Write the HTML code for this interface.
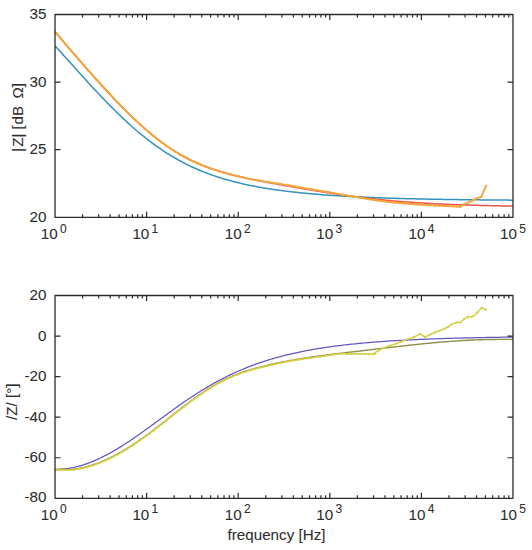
<!DOCTYPE html>
<html><head><meta charset="utf-8"><style>
html,body{margin:0;padding:0;background:#fff;width:532px;height:550px;overflow:hidden}
svg{display:block}
</style></head><body>
<svg width="532" height="550" viewBox="0 0 532 550" font-family='"Liberation Sans", sans-serif' fill="#2e2e2e" stroke-linejoin="round">
<rect width="532" height="550" fill="#fff"/>
<path d="M55.00,45.88 L56.15,47.12 L57.30,48.36 L58.44,49.61 L59.59,50.86 L60.74,52.11 L61.89,53.37 L63.04,54.63 L64.18,55.90 L65.33,57.17 L66.48,58.44 L67.63,59.71 L68.77,60.99 L69.92,62.27 L71.07,63.54 L72.22,64.82 L73.37,66.10 L74.51,67.38 L75.66,68.66 L76.81,69.94 L77.96,71.22 L79.11,72.49 L80.25,73.77 L81.40,75.04 L82.55,76.32 L83.70,77.59 L84.84,78.85 L85.99,80.12 L87.14,81.38 L88.29,82.64 L89.44,83.90 L90.58,85.15 L91.73,86.40 L92.88,87.64 L94.03,88.88 L95.18,90.12 L96.32,91.35 L97.47,92.58 L98.62,93.80 L99.77,95.02 L100.91,96.23 L102.06,97.44 L103.21,98.64 L104.36,99.84 L105.51,101.03 L106.65,102.21 L107.80,103.39 L108.95,104.56 L110.10,105.73 L111.25,106.89 L112.39,108.04 L113.54,109.19 L114.69,110.32 L115.84,111.46 L116.98,112.58 L118.13,113.70 L119.28,114.81 L120.43,115.91 L121.58,117.00 L122.72,118.09 L123.87,119.16 L125.02,120.24 L126.17,121.30 L127.32,122.35 L128.46,123.40 L129.61,124.43 L130.76,125.46 L131.91,126.48 L133.06,127.49 L134.20,128.49 L135.35,129.49 L136.50,130.47 L137.65,131.45 L138.79,132.41 L139.94,133.37 L141.09,134.32 L142.24,135.26 L143.39,136.19 L144.53,137.11 L145.68,138.02 L146.83,138.92 L147.98,139.81 L149.13,140.69 L150.27,141.57 L151.42,142.43 L152.57,143.28 L153.72,144.13 L154.86,144.96 L156.01,145.79 L157.16,146.60 L158.31,147.41 L159.46,148.21 L160.60,148.99 L161.75,149.77 L162.90,150.54 L164.05,151.29 L165.20,152.04 L166.34,152.78 L167.49,153.51 L168.64,154.23 L169.79,154.94 L170.93,155.64 L172.08,156.33 L173.23,157.01 L174.38,157.68 L175.53,158.35 L176.67,159.00 L177.82,159.65 L178.97,160.28 L180.12,160.91 L181.27,161.53 L182.41,162.14 L183.56,162.74 L184.71,163.33 L185.86,163.91 L187.01,164.48 L188.15,165.05 L189.30,165.61 L190.45,166.16 L191.60,166.70 L192.74,167.23 L193.89,167.75 L195.04,168.27 L196.19,168.78 L197.34,169.28 L198.48,169.77 L199.63,170.25 L200.78,170.73 L201.93,171.20 L203.08,171.66 L204.22,172.12 L205.37,172.57 L206.52,173.01 L207.67,173.44 L208.81,173.87 L209.96,174.29 L211.11,174.70 L212.26,175.11 L213.41,175.51 L214.55,175.90 L215.70,176.29 L216.85,176.67 L218.00,177.05 L219.15,177.42 L220.29,177.78 L221.44,178.14 L222.59,178.49 L223.74,178.83 L224.88,179.17 L226.03,179.51 L227.18,179.84 L228.33,180.16 L229.48,180.48 L230.62,180.79 L231.77,181.10 L232.92,181.40 L234.07,181.70 L235.22,181.99 L236.36,182.28 L237.51,182.56 L238.66,182.84 L239.81,183.12 L240.95,183.39 L242.10,183.65 L243.25,183.91 L244.40,184.17 L245.55,184.42 L246.69,184.67 L247.84,184.92 L248.99,185.16 L250.14,185.40 L251.29,185.63 L252.43,185.86 L253.58,186.08 L254.73,186.31 L255.88,186.52 L257.03,186.74 L258.17,186.95 L259.32,187.16 L260.47,187.36 L261.62,187.56 L262.76,187.76 L263.91,187.96 L265.06,188.15 L266.21,188.34 L267.36,188.52 L268.50,188.71 L269.65,188.89 L270.80,189.06 L271.95,189.24 L273.10,189.41 L274.24,189.58 L275.39,189.74 L276.54,189.91 L277.69,190.07 L278.83,190.23 L279.98,190.38 L281.13,190.54 L282.28,190.69 L283.43,190.84 L284.57,190.98 L285.72,191.13 L286.87,191.27 L288.02,191.41 L289.17,191.55 L290.31,191.68 L291.46,191.81 L292.61,191.95 L293.76,192.07 L294.90,192.20 L296.05,192.33 L297.20,192.45 L298.35,192.57 L299.50,192.69 L300.64,192.81 L301.79,192.92 L302.94,193.04 L304.09,193.15 L305.24,193.26 L306.38,193.37 L307.53,193.48 L308.68,193.58 L309.83,193.69 L310.97,193.79 L312.12,193.89 L313.27,193.99 L314.42,194.09 L315.57,194.19 L316.71,194.28 L317.86,194.37 L319.01,194.47 L320.16,194.56 L321.31,194.65 L322.45,194.73 L323.60,194.82 L324.75,194.91 L325.90,194.99 L327.05,195.07 L328.19,195.16 L329.34,195.24 L330.49,195.32 L331.64,195.39 L332.78,195.47 L333.93,195.55 L335.08,195.62 L336.23,195.69 L337.38,195.77 L338.52,195.84 L339.67,195.91 L340.82,195.98 L341.97,196.05 L343.12,196.11 L344.26,196.18 L345.41,196.25 L346.56,196.31 L347.71,196.37 L348.85,196.44 L350.00,196.50 L351.15,196.56 L352.30,196.62 L353.45,196.68 L354.59,196.73 L355.74,196.79 L356.89,196.85 L358.04,196.90 L359.19,196.96 L360.33,197.01 L361.48,197.07 L362.63,197.12 L363.78,197.17 L364.92,197.22 L366.07,197.27 L367.22,197.32 L368.37,197.37 L369.52,197.42 L370.66,197.46 L371.81,197.51 L372.96,197.56 L374.11,197.60 L375.26,197.64 L376.40,197.69 L377.55,197.73 L378.70,197.77 L379.85,197.82 L380.99,197.86 L382.14,197.90 L383.29,197.94 L384.44,197.98 L385.59,198.02 L386.73,198.06 L387.88,198.09 L389.03,198.13 L390.18,198.17 L391.33,198.20 L392.47,198.24 L393.62,198.28 L394.77,198.31 L395.92,198.34 L397.07,198.38 L398.21,198.41 L399.36,198.44 L400.51,198.48 L401.66,198.51 L402.80,198.54 L403.95,198.57 L405.10,198.60 L406.25,198.63 L407.40,198.66 L408.54,198.69 L409.69,198.72 L410.84,198.75 L411.99,198.77 L413.14,198.80 L414.28,198.83 L415.43,198.86 L416.58,198.88 L417.73,198.91 L418.87,198.93 L420.02,198.96 L421.17,198.98 L422.32,199.01 L423.47,199.03 L424.61,199.06 L425.76,199.08 L426.91,199.10 L428.06,199.13 L429.21,199.15 L430.35,199.17 L431.50,199.19 L432.65,199.21 L433.80,199.23 L434.94,199.26 L436.09,199.28 L437.24,199.30 L438.39,199.32 L439.54,199.34 L440.68,199.36 L441.83,199.37 L442.98,199.39 L444.13,199.41 L445.28,199.43 L446.42,199.45 L447.57,199.47 L448.72,199.48 L449.87,199.50 L451.02,199.52 L452.16,199.54 L453.31,199.55 L454.46,199.57 L455.61,199.58 L456.75,199.60 L457.90,199.62 L459.05,199.63 L460.20,199.65 L461.35,199.66 L462.49,199.68 L463.64,199.69 L464.79,199.71 L465.94,199.72 L467.09,199.73 L468.23,199.75 L469.38,199.76 L470.53,199.77 L471.68,199.79 L472.82,199.80 L473.97,199.81 L475.12,199.83 L476.27,199.84 L477.42,199.85 L478.56,199.86 L479.71,199.87 L480.86,199.89 L482.01,199.90 L483.16,199.91 L484.30,199.92 L485.45,199.93 L486.60,199.94 L487.75,199.95 L488.89,199.96 L490.04,199.97 L491.19,199.98 L492.34,199.99 L493.49,200.00 L494.63,200.01 L495.78,200.02 L496.93,200.03 L498.08,200.04 L499.23,200.05 L500.37,200.06 L501.52,200.07 L502.67,200.08 L503.82,200.09 L504.96,200.10 L506.11,200.11 L507.26,200.11 L508.41,200.12 L509.56,200.13 L510.70,200.14 L511.85,200.15 L513.00,200.15" fill="none" stroke="#3592bf" stroke-width="1.5"/>
<path d="M55.00,31.57 L56.15,32.93 L57.30,34.28 L58.44,35.63 L59.59,36.98 L60.74,38.33 L61.89,39.68 L63.04,41.03 L64.18,42.38 L65.33,43.72 L66.48,45.06 L67.63,46.40 L68.77,47.74 L69.92,49.08 L71.07,50.42 L72.22,51.75 L73.37,53.08 L74.51,54.41 L75.66,55.74 L76.81,57.07 L77.96,58.39 L79.11,59.72 L80.25,61.04 L81.40,62.35 L82.55,63.67 L83.70,64.98 L84.84,66.29 L85.99,67.60 L87.14,68.91 L88.29,70.21 L89.44,71.51 L90.58,72.80 L91.73,74.10 L92.88,75.39 L94.03,76.68 L95.18,77.96 L96.32,79.24 L97.47,80.52 L98.62,81.79 L99.77,83.06 L100.91,84.33 L102.06,85.59 L103.21,86.85 L104.36,88.10 L105.51,89.35 L106.65,90.60 L107.80,91.84 L108.95,93.07 L110.10,94.31 L111.25,95.53 L112.39,96.75 L113.54,97.97 L114.69,99.18 L115.84,100.38 L116.98,101.58 L118.13,102.78 L119.28,103.97 L120.43,105.15 L121.58,106.32 L122.72,107.49 L123.87,108.65 L125.02,109.81 L126.17,110.96 L127.32,112.10 L128.46,113.23 L129.61,114.36 L130.76,115.48 L131.91,116.59 L133.06,117.70 L134.20,118.79 L135.35,119.88 L136.50,120.96 L137.65,122.03 L138.79,123.09 L139.94,124.14 L141.09,125.18 L142.24,126.22 L143.39,127.24 L144.53,128.26 L145.68,129.26 L146.83,130.26 L147.98,131.24 L149.13,132.22 L150.27,133.18 L151.42,134.14 L152.57,135.08 L153.72,136.01 L154.86,136.94 L156.01,137.85 L157.16,138.75 L158.31,139.64 L159.46,140.51 L160.60,141.38 L161.75,142.24 L162.90,143.08 L164.05,143.91 L165.20,144.73 L166.34,145.54 L167.49,146.34 L168.64,147.12 L169.79,147.90 L170.93,148.66 L172.08,149.41 L173.23,150.14 L174.38,150.87 L175.53,151.59 L176.67,152.29 L177.82,152.98 L178.97,153.66 L180.12,154.33 L181.27,154.98 L182.41,155.63 L183.56,156.26 L184.71,156.89 L185.86,157.50 L187.01,158.10 L188.15,158.69 L189.30,159.27 L190.45,159.83 L191.60,160.39 L192.74,160.94 L193.89,161.48 L195.04,162.00 L196.19,162.52 L197.34,163.03 L198.48,163.53 L199.63,164.01 L200.78,164.49 L201.93,164.96 L203.08,165.42 L204.22,165.88 L205.37,166.32 L206.52,166.76 L207.67,167.18 L208.81,167.60 L209.96,168.01 L211.11,168.42 L212.26,168.81 L213.41,169.20 L214.55,169.59 L215.70,169.96 L216.85,170.33 L218.00,170.69 L219.15,171.05 L220.29,171.40 L221.44,171.74 L222.59,172.08 L223.74,172.41 L224.88,172.74 L226.03,173.06 L227.18,173.37 L228.33,173.69 L229.48,173.99 L230.62,174.29 L231.77,174.59 L232.92,174.89 L234.07,175.17 L235.22,175.46 L236.36,175.74 L237.51,176.02 L238.66,176.29 L239.81,176.56 L240.95,176.83 L242.10,177.09 L243.25,177.35 L244.40,177.61 L245.55,177.87 L246.69,178.12 L247.84,178.37 L248.99,178.62 L250.14,178.86 L251.29,179.11 L252.43,179.35 L253.58,179.58 L254.73,179.82 L255.88,180.05 L257.03,180.29 L258.17,180.52 L259.32,180.75 L260.47,180.97 L261.62,181.20 L262.76,181.43 L263.91,181.65 L265.06,181.87 L266.21,182.09 L267.36,182.31 L268.50,182.53 L269.65,182.75 L270.80,182.96 L271.95,183.18 L273.10,183.39 L274.24,183.60 L275.39,183.82 L276.54,184.03 L277.69,184.24 L278.83,184.45 L279.98,184.66 L281.13,184.86 L282.28,185.07 L283.43,185.28 L284.57,185.48 L285.72,185.69 L286.87,185.89 L288.02,186.10 L289.17,186.30 L290.31,186.51 L291.46,186.71 L292.61,186.91 L293.76,187.11 L294.90,187.31 L296.05,187.51 L297.20,187.71 L298.35,187.91 L299.50,188.11 L300.64,188.30 L301.79,188.50 L302.94,188.70 L304.09,188.89 L305.24,189.09 L306.38,189.28 L307.53,189.48 L308.68,189.67 L309.83,189.86 L310.97,190.05 L312.12,190.24 L313.27,190.43 L314.42,190.62 L315.57,190.81 L316.71,191.00 L317.86,191.19 L319.01,191.37 L320.16,191.56 L321.31,191.74 L322.45,191.93 L323.60,192.11 L324.75,192.29 L325.90,192.47 L327.05,192.65 L328.19,192.83 L329.34,193.01 L330.49,193.19 L331.64,193.36 L332.78,193.54 L333.93,193.71 L335.08,193.88 L336.23,194.06 L337.38,194.23 L338.52,194.39 L339.67,194.56 L340.82,194.73 L341.97,194.90 L343.12,195.06 L344.26,195.22 L345.41,195.38 L346.56,195.54 L347.71,195.70 L348.85,195.86 L350.00,196.02 L351.15,196.17 L352.30,196.33 L353.45,196.48 L354.59,196.63 L355.74,196.78 L356.89,196.93 L358.04,197.08 L359.19,197.22 L360.33,197.37 L361.48,197.51 L362.63,197.65 L363.78,197.79 L364.92,197.93 L366.07,198.07 L367.22,198.20 L368.37,198.33 L369.52,198.47 L370.66,198.60 L371.81,198.73 L372.96,198.86 L374.11,198.98 L375.26,199.11 L376.40,199.23 L377.55,199.35 L378.70,199.47 L379.85,199.59 L380.99,199.71 L382.14,199.83 L383.29,199.94 L384.44,200.05 L385.59,200.17 L386.73,200.28 L387.88,200.38 L389.03,200.49 L390.18,200.60 L391.33,200.70 L392.47,200.81 L393.62,200.91 L394.77,201.01 L395.92,201.11 L397.07,201.21 L398.21,201.30 L399.36,201.40 L400.51,201.49 L401.66,201.58 L402.80,201.67 L403.95,201.76 L405.10,201.85 L406.25,201.94 L407.40,202.02 L408.54,202.11 L409.69,202.19 L410.84,202.27 L411.99,202.35 L413.14,202.43 L414.28,202.51 L415.43,202.59 L416.58,202.66 L417.73,202.74 L418.87,202.81 L420.02,202.89 L421.17,202.96 L422.32,203.03 L423.47,203.10 L424.61,203.16 L425.76,203.23 L426.91,203.30 L428.06,203.36 L429.21,203.42 L430.35,203.49 L431.50,203.55 L432.65,203.61 L433.80,203.67 L434.94,203.73 L436.09,203.79 L437.24,203.84 L438.39,203.90 L439.54,203.95 L440.68,204.01 L441.83,204.06 L442.98,204.11 L444.13,204.17 L445.28,204.22 L446.42,204.27 L447.57,204.32 L448.72,204.36 L449.87,204.41 L451.02,204.46 L452.16,204.50 L453.31,204.55 L454.46,204.59 L455.61,204.64 L456.75,204.68 L457.90,204.72 L459.05,204.76 L460.20,204.80 L461.35,204.84 L462.49,204.88 L463.64,204.92 L464.79,204.96 L465.94,205.00 L467.09,205.03 L468.23,205.07 L469.38,205.10 L470.53,205.14 L471.68,205.17 L472.82,205.21 L473.97,205.24 L475.12,205.27 L476.27,205.31 L477.42,205.34 L478.56,205.37 L479.71,205.40 L480.86,205.43 L482.01,205.46 L483.16,205.49 L484.30,205.51 L485.45,205.54 L486.60,205.57 L487.75,205.60 L488.89,205.62 L490.04,205.65 L491.19,205.68 L492.34,205.70 L493.49,205.72 L494.63,205.75 L495.78,205.77 L496.93,205.80 L498.08,205.82 L499.23,205.84 L500.37,205.86 L501.52,205.89 L502.67,205.91 L503.82,205.93 L504.96,205.95 L506.11,205.97 L507.26,205.99 L508.41,206.01 L509.56,206.03 L510.70,206.05 L511.85,206.07 L513.00,206.09" fill="none" stroke="#ee5548" stroke-width="1.5"/>
<path d="M55.00,31.87 L56.36,33.47 L57.71,35.07 L59.07,36.67 L60.42,38.26 L61.78,39.85 L63.13,41.44 L64.49,43.03 L65.84,44.62 L67.20,46.20 L68.55,47.78 L69.91,49.36 L71.26,50.94 L72.62,52.52 L73.97,54.09 L75.33,55.66 L76.68,57.22 L78.04,58.79 L79.39,60.35 L80.75,61.91 L82.10,63.46 L83.46,65.01 L84.81,66.56 L86.17,68.10 L87.52,69.64 L88.88,71.18 L90.23,72.71 L91.59,74.24 L92.95,75.76 L94.30,77.28 L95.66,78.80 L97.01,80.31 L98.37,81.81 L99.72,83.31 L101.08,84.81 L102.43,86.29 L103.79,87.78 L105.14,89.26 L106.50,90.73 L107.85,92.19 L109.21,93.65 L110.56,95.10 L111.92,96.55 L113.27,97.98 L114.63,99.42 L115.98,100.84 L117.34,102.25 L118.69,103.66 L120.05,105.06 L121.40,106.45 L122.76,107.83 L124.11,109.20 L125.47,110.56 L126.82,111.91 L128.18,113.25 L129.54,114.59 L130.89,115.91 L132.25,117.22 L133.60,118.52 L134.96,119.80 L136.31,121.08 L137.67,122.35 L139.02,123.60 L140.38,124.84 L141.73,126.06 L143.09,127.28 L144.44,128.48 L145.80,129.66 L147.15,130.84 L148.51,132.00 L149.86,133.14 L151.22,134.27 L152.57,135.39 L153.93,136.49 L155.28,137.57 L156.64,138.64 L157.99,139.69 L159.35,140.73 L160.70,141.76 L162.06,142.76 L163.41,143.75 L164.77,144.73 L166.13,145.69 L167.48,146.63 L168.84,147.55 L170.19,148.46 L171.55,149.36 L172.90,150.23 L174.26,151.09 L175.61,151.94 L176.97,152.77 L178.32,153.58 L179.68,154.37 L181.03,155.15 L182.39,155.91 L183.74,156.66 L185.10,157.39 L186.45,158.11 L187.81,158.81 L189.16,159.50 L190.52,160.17 L191.87,160.83 L193.23,161.47 L194.58,162.10 L195.94,162.71 L197.29,163.31 L198.65,163.90 L200.00,164.47 L201.36,165.03 L202.72,165.58 L204.07,166.12 L205.43,166.64 L206.78,167.15 L208.14,167.66 L209.49,168.15 L210.85,168.63 L212.20,169.09 L213.56,169.55 L214.91,170.00 L216.27,170.44 L217.62,170.87 L218.98,171.29 L220.33,171.71 L221.69,172.11 L223.04,172.51 L224.40,172.90 L225.75,173.28 L227.11,173.65 L228.46,174.02 L229.82,174.38 L231.17,174.74 L232.53,175.09 L233.88,175.43 L235.24,175.77 L236.59,176.10 L237.95,176.42 L239.31,176.74 L240.66,177.06 L242.02,177.37 L243.37,177.68 L244.73,177.99 L246.08,178.29 L247.44,178.58 L248.79,178.87 L250.15,179.16 L251.50,179.40 L252.86,179.63 L254.21,179.86 L255.57,180.09 L256.92,180.31 L258.28,180.54 L259.63,180.76 L260.99,180.97 L262.34,181.19 L263.70,181.40 L265.05,181.62 L266.41,181.83 L267.76,182.04 L269.12,182.24 L270.47,182.45 L271.83,182.65 L273.18,182.86 L274.54,183.06 L275.89,183.26 L277.25,183.46 L278.61,183.66 L279.96,183.85 L281.32,184.10 L282.67,184.34 L284.03,184.59 L285.38,184.83 L286.74,185.07 L288.09,185.31 L289.45,185.55 L290.80,185.79 L292.16,186.03 L293.51,186.27 L294.87,186.50 L296.22,186.74 L297.58,186.98 L298.93,187.21 L300.29,187.44 L301.64,187.68 L303.00,187.91 L304.35,188.14 L305.71,188.37 L307.06,188.60 L308.42,188.83 L309.77,189.05 L311.13,189.28 L312.48,189.50 L313.84,189.73 L315.20,189.95 L316.55,190.17 L317.91,190.39 L319.26,190.61 L320.62,190.83 L321.97,191.05 L323.33,191.27 L324.68,191.48 L326.04,191.69 L327.39,191.91 L328.75,192.12 L330.10,192.33 L331.46,192.59 L332.81,192.85 L334.17,193.11 L335.52,193.37 L336.88,193.63 L338.23,193.88 L339.59,194.13 L340.94,194.39 L342.30,194.63 L343.65,194.88 L345.01,195.13 L346.36,195.37 L347.72,195.61 L349.07,195.86 L350.43,196.09 L351.79,196.33 L353.14,196.57 L354.50,196.80 L355.85,197.03 L357.21,197.26 L358.56,197.49 L359.92,197.71 L361.27,197.93 L362.63,198.16 L363.98,198.37 L365.34,198.59 L366.69,198.81 L368.05,199.02 L369.40,199.23 L370.76,199.44 L372.11,199.65 L373.47,199.85 L374.82,200.05 L376.18,200.25 L377.53,200.45 L378.89,200.65 L380.24,200.84 L381.60,201.04 L382.95,201.23 L384.31,201.41 L385.66,201.60 L387.02,201.78 L388.38,201.97 L389.73,202.15 L391.09,202.28 L392.44,202.41 L393.80,202.54 L395.15,202.66 L396.51,202.78 L397.86,202.90 L399.22,203.02 L400.57,203.13 L401.93,203.24 L403.28,203.35 L404.64,203.46 L405.99,203.57 L407.35,203.68 L408.70,203.78 L410.06,203.88 L411.41,203.98 L412.77,204.08 L414.12,204.18 L415.48,204.28 L416.83,204.37 L418.19,204.46 L419.54,204.55 L420.90,204.64 L422.25,204.73 L423.61,204.82 L424.97,204.90 L426.32,204.98 L427.68,205.07 L429.03,205.15 L430.39,205.22 L431.74,205.30 L433.10,205.38 L434.45,205.45 L435.81,205.52 L437.16,205.60 L438.52,205.67 L439.87,205.74 L441.23,205.80 L442.58,205.87 L443.94,205.94 L445.29,206.00 L446.65,206.06 L448.00,206.13 L449.36,206.19 L450.71,206.25 L452.07,206.30 L453.42,206.35 L454.78,206.40 L456.13,206.46 L457.49,206.51 L458.84,206.56 L460.20,206.60 L460.20,206.90 L464.40,204.10 L468.60,202.40 L472.80,200.30 L477.10,198.20 L481.30,196.90 L486.00,185.90" fill="none" stroke="#f4a63e" stroke-width="1.9" stroke-linejoin="round"/>
<g fill="#f4a63e"><circle cx="56.50" cy="33.64" r="1.1"/><circle cx="60.90" cy="38.82" r="1.1"/><circle cx="65.30" cy="43.98" r="1.1"/><circle cx="69.70" cy="49.12" r="1.1"/><circle cx="74.10" cy="54.24" r="1.1"/><circle cx="78.50" cy="59.32" r="1.1"/><circle cx="82.90" cy="64.37" r="1.1"/><circle cx="87.30" cy="69.39" r="1.1"/><circle cx="91.70" cy="74.36" r="1.1"/><circle cx="96.10" cy="79.29" r="1.1"/><circle cx="100.50" cy="84.17" r="1.1"/><circle cx="104.90" cy="88.99" r="1.1"/><circle cx="109.30" cy="93.75" r="1.1"/><circle cx="113.70" cy="98.44" r="1.1"/><circle cx="118.10" cy="103.04" r="1.1"/><circle cx="122.50" cy="107.56" r="1.1"/><circle cx="126.90" cy="111.99" r="1.1"/><circle cx="131.30" cy="116.30" r="1.1"/><circle cx="135.70" cy="120.51" r="1.1"/><circle cx="140.10" cy="124.58" r="1.1"/><circle cx="144.50" cy="128.53" r="1.1"/><circle cx="148.90" cy="132.33" r="1.1"/><circle cx="153.30" cy="135.98" r="1.1"/><circle cx="157.70" cy="139.47" r="1.1"/><circle cx="162.10" cy="142.79" r="1.1"/><circle cx="166.50" cy="145.95" r="1.1"/><circle cx="170.90" cy="148.93" r="1.1"/><circle cx="175.30" cy="151.75" r="1.1"/><circle cx="179.70" cy="154.39" r="1.1"/><circle cx="184.10" cy="156.86" r="1.1"/><circle cx="188.50" cy="159.16" r="1.1"/><circle cx="192.90" cy="161.31" r="1.1"/><circle cx="197.30" cy="163.31" r="1.1"/><circle cx="201.70" cy="165.17" r="1.1"/><circle cx="206.10" cy="166.90" r="1.1"/><circle cx="210.50" cy="168.50" r="1.1"/><circle cx="214.90" cy="170.00" r="1.1"/><circle cx="219.30" cy="171.39" r="1.1"/><circle cx="223.70" cy="172.70" r="1.1"/><circle cx="228.10" cy="173.92" r="1.1"/><circle cx="232.50" cy="175.08" r="1.1"/><circle cx="236.90" cy="176.17" r="1.1"/><circle cx="241.30" cy="177.21" r="1.1"/><circle cx="245.70" cy="178.20" r="1.1"/><circle cx="250.10" cy="179.15" r="1.1"/><circle cx="254.50" cy="179.91" r="1.1"/><circle cx="258.90" cy="180.64" r="1.1"/><circle cx="263.30" cy="181.34" r="1.1"/><circle cx="267.70" cy="182.03" r="1.1"/><circle cx="272.10" cy="182.69" r="1.1"/><circle cx="276.50" cy="183.35" r="1.1"/><circle cx="280.90" cy="184.02" r="1.1"/><circle cx="285.30" cy="184.81" r="1.1"/><circle cx="289.70" cy="185.60" r="1.1"/><circle cx="294.10" cy="186.37" r="1.1"/><circle cx="298.50" cy="187.13" r="1.1"/><circle cx="302.90" cy="187.89" r="1.1"/><circle cx="307.30" cy="188.64" r="1.1"/><circle cx="311.70" cy="189.37" r="1.1"/><circle cx="316.10" cy="190.10" r="1.1"/><circle cx="320.50" cy="190.81" r="1.1"/><circle cx="324.90" cy="191.52" r="1.1"/><circle cx="329.30" cy="192.20" r="1.1"/><circle cx="333.70" cy="193.02" r="1.1"/><circle cx="338.10" cy="193.86" r="1.1"/><circle cx="342.50" cy="194.67" r="1.1"/><circle cx="346.90" cy="195.47" r="1.1"/><circle cx="351.30" cy="196.25" r="1.1"/><circle cx="355.70" cy="197.00" r="1.1"/><circle cx="360.10" cy="197.74" r="1.1"/><circle cx="364.50" cy="198.46" r="1.1"/><circle cx="368.90" cy="199.15" r="1.1"/><circle cx="373.30" cy="199.82" r="1.1"/><circle cx="377.70" cy="200.48" r="1.1"/><circle cx="382.10" cy="201.11" r="1.1"/><circle cx="386.50" cy="201.71" r="1.1"/><circle cx="390.90" cy="202.27" r="1.1"/><circle cx="395.30" cy="202.67" r="1.1"/><circle cx="399.70" cy="203.06" r="1.1"/><circle cx="404.10" cy="203.42" r="1.1"/><circle cx="408.50" cy="203.77" r="1.1"/><circle cx="412.90" cy="204.09" r="1.1"/><circle cx="417.30" cy="204.40" r="1.1"/><circle cx="421.70" cy="204.69" r="1.1"/><circle cx="426.10" cy="204.97" r="1.1"/><circle cx="430.50" cy="205.23" r="1.1"/><circle cx="434.90" cy="205.48" r="1.1"/><circle cx="439.30" cy="205.71" r="1.1"/><circle cx="443.70" cy="205.93" r="1.1"/><circle cx="448.10" cy="206.13" r="1.1"/><circle cx="452.50" cy="206.32" r="1.1"/><circle cx="456.90" cy="206.48" r="1.1"/><circle cx="460.20" cy="206.90" r="1.1"/><circle cx="464.40" cy="204.10" r="1.1"/><circle cx="468.60" cy="202.40" r="1.1"/><circle cx="472.80" cy="200.30" r="1.1"/><circle cx="477.10" cy="198.20" r="1.1"/><circle cx="481.30" cy="196.90" r="1.1"/><circle cx="486.00" cy="185.90" r="1.1"/></g>
<path d="M55.00,469.34 L56.15,469.36 L57.30,469.36 L58.44,469.34 L59.59,469.30 L60.74,469.24 L61.89,469.17 L63.04,469.08 L64.18,468.97 L65.33,468.85 L66.48,468.71 L67.63,468.55 L68.77,468.38 L69.92,468.19 L71.07,467.98 L72.22,467.76 L73.37,467.52 L74.51,467.27 L75.66,467.00 L76.81,466.72 L77.96,466.43 L79.11,466.12 L80.25,465.79 L81.40,465.45 L82.55,465.10 L83.70,464.73 L84.84,464.36 L85.99,463.96 L87.14,463.56 L88.29,463.14 L89.44,462.71 L90.58,462.26 L91.73,461.81 L92.88,461.34 L94.03,460.86 L95.18,460.37 L96.32,459.86 L97.47,459.35 L98.62,458.82 L99.77,458.28 L100.91,457.73 L102.06,457.17 L103.21,456.60 L104.36,456.02 L105.51,455.43 L106.65,454.83 L107.80,454.22 L108.95,453.60 L110.10,452.97 L111.25,452.33 L112.39,451.68 L113.54,451.02 L114.69,450.35 L115.84,449.68 L116.98,448.99 L118.13,448.30 L119.28,447.60 L120.43,446.89 L121.58,446.18 L122.72,445.45 L123.87,444.72 L125.02,443.99 L126.17,443.24 L127.32,442.49 L128.46,441.73 L129.61,440.97 L130.76,440.20 L131.91,439.42 L133.06,438.64 L134.20,437.85 L135.35,437.06 L136.50,436.27 L137.65,435.46 L138.79,434.66 L139.94,433.85 L141.09,433.04 L142.24,432.22 L143.39,431.40 L144.53,430.57 L145.68,429.75 L146.83,428.92 L147.98,428.09 L149.13,427.25 L150.27,426.42 L151.42,425.58 L152.57,424.74 L153.72,423.90 L154.86,423.06 L156.01,422.21 L157.16,421.37 L158.31,420.53 L159.46,419.68 L160.60,418.84 L161.75,418.00 L162.90,417.16 L164.05,416.32 L165.20,415.48 L166.34,414.64 L167.49,413.80 L168.64,412.96 L169.79,412.13 L170.93,411.30 L172.08,410.47 L173.23,409.64 L174.38,408.82 L175.53,408.00 L176.67,407.18 L177.82,406.37 L178.97,405.56 L180.12,404.75 L181.27,403.95 L182.41,403.15 L183.56,402.35 L184.71,401.56 L185.86,400.78 L187.01,399.99 L188.15,399.22 L189.30,398.45 L190.45,397.68 L191.60,396.92 L192.74,396.16 L193.89,395.41 L195.04,394.67 L196.19,393.93 L197.34,393.19 L198.48,392.46 L199.63,391.74 L200.78,391.02 L201.93,390.31 L203.08,389.61 L204.22,388.91 L205.37,388.22 L206.52,387.53 L207.67,386.85 L208.81,386.18 L209.96,385.51 L211.11,384.85 L212.26,384.20 L213.41,383.55 L214.55,382.91 L215.70,382.28 L216.85,381.65 L218.00,381.03 L219.15,380.42 L220.29,379.81 L221.44,379.21 L222.59,378.61 L223.74,378.02 L224.88,377.44 L226.03,376.87 L227.18,376.30 L228.33,375.74 L229.48,375.18 L230.62,374.64 L231.77,374.09 L232.92,373.56 L234.07,373.03 L235.22,372.51 L236.36,371.99 L237.51,371.48 L238.66,370.98 L239.81,370.48 L240.95,369.99 L242.10,369.51 L243.25,369.03 L244.40,368.55 L245.55,368.09 L246.69,367.63 L247.84,367.17 L248.99,366.73 L250.14,366.28 L251.29,365.85 L252.43,365.42 L253.58,364.99 L254.73,364.57 L255.88,364.16 L257.03,363.75 L258.17,363.35 L259.32,362.95 L260.47,362.56 L261.62,362.17 L262.76,361.79 L263.91,361.41 L265.06,361.04 L266.21,360.68 L267.36,360.32 L268.50,359.96 L269.65,359.61 L270.80,359.27 L271.95,358.93 L273.10,358.59 L274.24,358.26 L275.39,357.93 L276.54,357.61 L277.69,357.29 L278.83,356.98 L279.98,356.67 L281.13,356.37 L282.28,356.07 L283.43,355.77 L284.57,355.48 L285.72,355.20 L286.87,354.91 L288.02,354.64 L289.17,354.36 L290.31,354.09 L291.46,353.82 L292.61,353.56 L293.76,353.30 L294.90,353.05 L296.05,352.80 L297.20,352.55 L298.35,352.30 L299.50,352.06 L300.64,351.83 L301.79,351.59 L302.94,351.36 L304.09,351.14 L305.24,350.91 L306.38,350.69 L307.53,350.48 L308.68,350.26 L309.83,350.05 L310.97,349.85 L312.12,349.64 L313.27,349.44 L314.42,349.24 L315.57,349.05 L316.71,348.85 L317.86,348.66 L319.01,348.48 L320.16,348.29 L321.31,348.11 L322.45,347.93 L323.60,347.76 L324.75,347.58 L325.90,347.41 L327.05,347.24 L328.19,347.08 L329.34,346.92 L330.49,346.76 L331.64,346.60 L332.78,346.44 L333.93,346.29 L335.08,346.14 L336.23,345.99 L337.38,345.84 L338.52,345.69 L339.67,345.55 L340.82,345.41 L341.97,345.27 L343.12,345.14 L344.26,345.00 L345.41,344.87 L346.56,344.74 L347.71,344.61 L348.85,344.48 L350.00,344.36 L351.15,344.24 L352.30,344.12 L353.45,344.00 L354.59,343.88 L355.74,343.76 L356.89,343.65 L358.04,343.54 L359.19,343.43 L360.33,343.32 L361.48,343.21 L362.63,343.11 L363.78,343.00 L364.92,342.90 L366.07,342.80 L367.22,342.70 L368.37,342.60 L369.52,342.51 L370.66,342.41 L371.81,342.32 L372.96,342.22 L374.11,342.13 L375.26,342.04 L376.40,341.96 L377.55,341.87 L378.70,341.78 L379.85,341.70 L380.99,341.62 L382.14,341.53 L383.29,341.45 L384.44,341.37 L385.59,341.30 L386.73,341.22 L387.88,341.14 L389.03,341.07 L390.18,340.99 L391.33,340.92 L392.47,340.85 L393.62,340.78 L394.77,340.71 L395.92,340.64 L397.07,340.57 L398.21,340.51 L399.36,340.44 L400.51,340.38 L401.66,340.31 L402.80,340.25 L403.95,340.19 L405.10,340.13 L406.25,340.07 L407.40,340.01 L408.54,339.95 L409.69,339.90 L410.84,339.84 L411.99,339.78 L413.14,339.73 L414.28,339.68 L415.43,339.62 L416.58,339.57 L417.73,339.52 L418.87,339.47 L420.02,339.42 L421.17,339.37 L422.32,339.32 L423.47,339.27 L424.61,339.23 L425.76,339.18 L426.91,339.13 L428.06,339.09 L429.21,339.04 L430.35,339.00 L431.50,338.96 L432.65,338.91 L433.80,338.87 L434.94,338.83 L436.09,338.79 L437.24,338.75 L438.39,338.71 L439.54,338.67 L440.68,338.64 L441.83,338.60 L442.98,338.56 L444.13,338.52 L445.28,338.49 L446.42,338.45 L447.57,338.42 L448.72,338.38 L449.87,338.35 L451.02,338.32 L452.16,338.28 L453.31,338.25 L454.46,338.22 L455.61,338.19 L456.75,338.16 L457.90,338.12 L459.05,338.09 L460.20,338.06 L461.35,338.04 L462.49,338.01 L463.64,337.98 L464.79,337.95 L465.94,337.92 L467.09,337.90 L468.23,337.87 L469.38,337.84 L470.53,337.82 L471.68,337.79 L472.82,337.77 L473.97,337.74 L475.12,337.72 L476.27,337.69 L477.42,337.67 L478.56,337.64 L479.71,337.62 L480.86,337.60 L482.01,337.58 L483.16,337.55 L484.30,337.53 L485.45,337.51 L486.60,337.49 L487.75,337.47 L488.89,337.45 L490.04,337.43 L491.19,337.41 L492.34,337.39 L493.49,337.37 L494.63,337.35 L495.78,337.33 L496.93,337.31 L498.08,337.29 L499.23,337.28 L500.37,337.26 L501.52,337.24 L502.67,337.22 L503.82,337.21 L504.96,337.19 L506.11,337.17 L507.26,337.16 L508.41,337.14 L509.56,337.13 L510.70,337.11 L511.85,337.10 L513.00,337.08" fill="none" stroke="#6455c0" stroke-width="1.25"/>
<path d="M55.00,469.41 L56.15,469.41 L57.30,469.41 L58.44,469.41 L59.59,469.41 L60.74,469.41 L61.89,469.41 L63.04,469.41 L64.18,469.41 L65.33,469.41 L66.48,469.41 L67.63,469.41 L68.77,469.41 L69.92,469.41 L71.07,469.41 L72.22,469.41 L73.37,469.32 L74.51,469.18 L75.66,469.02 L76.81,468.84 L77.96,468.65 L79.11,468.45 L80.25,468.23 L81.40,468.00 L82.55,467.75 L83.70,467.49 L84.84,467.21 L85.99,466.92 L87.14,466.61 L88.29,466.30 L89.44,465.96 L90.58,465.62 L91.73,465.26 L92.88,464.89 L94.03,464.50 L95.18,464.10 L96.32,463.69 L97.47,463.27 L98.62,462.83 L99.77,462.38 L100.91,461.92 L102.06,461.45 L103.21,460.96 L104.36,460.46 L105.51,459.95 L106.65,459.43 L107.80,458.90 L108.95,458.36 L110.10,457.80 L111.25,457.24 L112.39,456.66 L113.54,456.07 L114.69,455.48 L115.84,454.87 L116.98,454.25 L118.13,453.62 L119.28,452.98 L120.43,452.33 L121.58,451.68 L122.72,451.01 L123.87,450.33 L125.02,449.64 L126.17,448.95 L127.32,448.24 L128.46,447.53 L129.61,446.81 L130.76,446.08 L131.91,445.34 L133.06,444.59 L134.20,443.83 L135.35,443.07 L136.50,442.29 L137.65,441.51 L138.79,440.73 L139.94,439.93 L141.09,439.13 L142.24,438.32 L143.39,437.50 L144.53,436.68 L145.68,435.85 L146.83,435.01 L147.98,434.17 L149.13,433.32 L150.27,432.46 L151.42,431.60 L152.57,430.73 L153.72,429.86 L154.86,428.99 L156.01,428.10 L157.16,427.22 L158.31,426.33 L159.46,425.44 L160.60,424.55 L161.75,423.65 L162.90,422.75 L164.05,421.85 L165.20,420.94 L166.34,420.04 L167.49,419.13 L168.64,418.23 L169.79,417.32 L170.93,416.41 L172.08,415.50 L173.23,414.60 L174.38,413.69 L175.53,412.78 L176.67,411.88 L177.82,410.98 L178.97,410.08 L180.12,409.18 L181.27,408.29 L182.41,407.40 L183.56,406.51 L184.71,405.62 L185.86,404.74 L187.01,403.87 L188.15,403.00 L189.30,402.13 L190.45,401.27 L191.60,400.41 L192.74,399.56 L193.89,398.72 L195.04,397.88 L196.19,397.05 L197.34,396.23 L198.48,395.41 L199.63,394.60 L200.78,393.80 L201.93,393.01 L203.08,392.23 L204.22,391.46 L205.37,390.69 L206.52,389.94 L207.67,389.20 L208.81,388.46 L209.96,387.74 L211.11,387.03 L212.26,386.33 L213.41,385.64 L214.55,384.96 L215.70,384.30 L216.85,383.64 L218.00,383.01 L219.15,382.38 L220.29,381.77 L221.44,381.17 L222.59,380.58 L223.74,380.01 L224.88,379.45 L226.03,378.91 L227.18,378.37 L228.33,377.85 L229.48,377.34 L230.62,376.84 L231.77,376.35 L232.92,375.88 L234.07,375.41 L235.22,374.96 L236.36,374.51 L237.51,374.08 L238.66,373.65 L239.81,373.23 L240.95,372.82 L242.10,372.42 L243.25,372.03 L244.40,371.65 L245.55,371.28 L246.69,370.91 L247.84,370.55 L248.99,370.20 L250.14,369.85 L251.29,369.51 L252.43,369.18 L253.58,368.85 L254.73,368.53 L255.88,368.21 L257.03,367.90 L258.17,367.59 L259.32,367.29 L260.47,366.99 L261.62,366.70 L262.76,366.41 L263.91,366.12 L265.06,365.84 L266.21,365.56 L267.36,365.28 L268.50,365.01 L269.65,364.74 L270.80,364.48 L271.95,364.22 L273.10,363.96 L274.24,363.71 L275.39,363.46 L276.54,363.21 L277.69,362.97 L278.83,362.73 L279.98,362.49 L281.13,362.26 L282.28,362.03 L283.43,361.80 L284.57,361.57 L285.72,361.35 L286.87,361.13 L288.02,360.92 L289.17,360.71 L290.31,360.50 L291.46,360.29 L292.61,360.08 L293.76,359.88 L294.90,359.68 L296.05,359.48 L297.20,359.29 L298.35,359.10 L299.50,358.91 L300.64,358.72 L301.79,358.53 L302.94,358.35 L304.09,358.17 L305.24,357.99 L306.38,357.82 L307.53,357.64 L308.68,357.47 L309.83,357.30 L310.97,357.13 L312.12,356.96 L313.27,356.80 L314.42,356.63 L315.57,356.47 L316.71,356.31 L317.86,356.15 L319.01,356.00 L320.16,355.84 L321.31,355.69 L322.45,355.53 L323.60,355.38 L324.75,355.23 L325.90,355.08 L327.05,354.94 L328.19,354.79 L329.34,354.64 L330.49,354.50 L331.64,354.36 L332.78,354.21 L333.93,354.07 L335.08,353.93 L336.23,353.79 L337.38,353.65 L338.52,353.51 L339.67,353.38 L340.82,353.24 L341.97,353.10 L343.12,352.97 L344.26,352.83 L345.41,352.70 L346.56,352.56 L347.71,352.43 L348.85,352.29 L350.00,352.16 L351.15,352.02 L352.30,351.89 L353.45,351.75 L354.59,351.62 L355.74,351.49 L356.89,351.35 L358.04,351.22 L359.19,351.08 L360.33,350.95 L361.48,350.81 L362.63,350.68 L363.78,350.54 L364.92,350.41 L366.07,350.27 L367.22,350.14 L368.37,350.00 L369.52,349.86 L370.66,349.73 L371.81,349.59 L372.96,349.45 L374.11,349.32 L375.26,349.18 L376.40,349.04 L377.55,348.91 L378.70,348.77 L379.85,348.64 L380.99,348.50 L382.14,348.36 L383.29,348.23 L384.44,348.09 L385.59,347.96 L386.73,347.82 L387.88,347.69 L389.03,347.55 L390.18,347.42 L391.33,347.28 L392.47,347.15 L393.62,347.01 L394.77,346.88 L395.92,346.75 L397.07,346.62 L398.21,346.49 L399.36,346.35 L400.51,346.22 L401.66,346.09 L402.80,345.96 L403.95,345.83 L405.10,345.71 L406.25,345.58 L407.40,345.45 L408.54,345.32 L409.69,345.20 L410.84,345.07 L411.99,344.95 L413.14,344.83 L414.28,344.70 L415.43,344.58 L416.58,344.46 L417.73,344.34 L418.87,344.22 L420.02,344.10 L421.17,343.98 L422.32,343.87 L423.47,343.75 L424.61,343.64 L425.76,343.52 L426.91,343.41 L428.06,343.30 L429.21,343.19 L430.35,343.08 L431.50,342.97 L432.65,342.86 L433.80,342.76 L434.94,342.65 L436.09,342.55 L437.24,342.45 L438.39,342.35 L439.54,342.25 L440.68,342.15 L441.83,342.05 L442.98,341.96 L444.13,341.86 L445.28,341.77 L446.42,341.68 L447.57,341.59 L448.72,341.50 L449.87,341.41 L451.02,341.33 L452.16,341.24 L453.31,341.16 L454.46,341.08 L455.61,341.00 L456.75,340.92 L457.90,340.85 L459.05,340.77 L460.20,340.70 L461.35,340.63 L462.49,340.56 L463.64,340.49 L464.79,340.43 L465.94,340.36 L467.09,340.30 L468.23,340.24 L469.38,340.18 L470.53,340.13 L471.68,340.07 L472.82,340.02 L473.97,339.97 L475.12,339.92 L476.27,339.88 L477.42,339.83 L478.56,339.79 L479.71,339.75 L480.86,339.71 L482.01,339.68 L483.16,339.65 L484.30,339.61 L485.45,339.59 L486.60,339.56 L487.75,339.53 L488.89,339.51 L490.04,339.49 L491.19,339.47 L492.34,339.46 L493.49,339.45 L494.63,339.44 L495.78,339.43 L496.93,339.42 L498.08,339.42 L499.23,339.42 L500.37,339.42 L501.52,339.42 L502.67,339.42 L503.82,339.42 L504.96,339.42 L506.11,339.42 L507.26,339.42 L508.41,339.42 L509.56,339.42 L510.70,339.42 L511.85,339.42 L513.00,339.42" fill="none" stroke="#8e8e48" stroke-width="1.4"/>
<path d="M55.00,469.91 L56.07,469.91 L57.14,469.91 L58.21,469.91 L59.28,469.91 L60.35,469.91 L61.42,469.91 L62.49,469.91 L63.56,469.91 L64.63,469.91 L65.70,469.91 L66.77,469.91 L67.83,469.91 L68.90,469.91 L69.97,469.91 L71.04,469.91 L72.11,469.91 L73.18,469.84 L74.25,469.71 L75.32,469.57 L76.39,469.41 L77.46,469.24 L78.53,469.05 L79.60,468.86 L80.67,468.65 L81.74,468.43 L82.81,468.19 L83.88,467.94 L84.95,467.68 L86.02,467.41 L87.09,467.13 L88.16,466.83 L89.23,466.53 L90.30,466.21 L91.37,465.87 L92.43,465.53 L93.50,465.18 L94.57,464.81 L95.64,464.44 L96.71,464.05 L97.78,463.65 L98.85,463.24 L99.92,462.82 L100.99,462.39 L102.06,461.95 L103.13,461.49 L104.20,461.03 L105.27,460.56 L106.34,460.08 L107.41,459.59 L108.48,459.08 L109.55,458.57 L110.62,458.05 L111.69,457.52 L112.76,456.98 L113.83,456.43 L114.90,455.87 L115.97,455.30 L117.03,454.72 L118.10,454.14 L119.17,453.54 L120.24,452.94 L121.31,452.33 L122.38,451.71 L123.45,451.08 L124.52,450.44 L125.59,449.80 L126.66,449.15 L127.73,448.49 L128.80,447.82 L129.87,447.14 L130.94,446.46 L132.01,445.77 L133.08,445.07 L134.15,444.37 L135.22,443.66 L136.29,442.94 L137.36,442.21 L138.43,441.48 L139.50,440.74 L140.57,440.00 L141.63,439.25 L142.70,438.49 L143.77,437.72 L144.84,436.96 L145.91,436.18 L146.98,435.40 L148.05,434.61 L149.12,433.82 L150.19,433.02 L151.26,432.22 L152.33,431.41 L153.40,430.60 L154.47,429.79 L155.54,428.97 L156.61,428.15 L157.68,427.32 L158.75,426.49 L159.82,425.66 L160.89,424.82 L161.96,423.99 L163.03,423.15 L164.10,422.31 L165.17,421.47 L166.23,420.62 L167.30,419.78 L168.37,418.93 L169.44,418.09 L170.51,417.24 L171.58,416.40 L172.65,415.55 L173.72,414.71 L174.79,413.86 L175.86,413.02 L176.93,412.18 L178.00,411.34 L179.07,410.50 L180.14,409.67 L181.21,408.83 L182.28,408.00 L183.35,407.17 L184.42,406.35 L185.49,405.53 L186.56,404.71 L187.63,403.89 L188.70,403.08 L189.77,402.28 L190.83,401.48 L191.90,400.68 L192.97,399.89 L194.04,399.11 L195.11,398.33 L196.18,397.55 L197.25,396.79 L198.32,396.03 L199.39,395.27 L200.46,394.53 L201.53,393.79 L202.60,393.05 L203.67,392.33 L204.74,391.61 L205.81,390.91 L206.88,390.21 L207.95,389.52 L209.02,388.83 L210.09,388.16 L211.16,387.50 L212.23,386.85 L213.30,386.20 L214.37,385.57 L215.43,384.95 L216.50,384.34 L217.57,383.74 L218.64,383.15 L219.71,382.58 L220.78,382.01 L221.85,381.46 L222.92,380.92 L223.99,380.39 L225.06,379.87 L226.13,379.36 L227.20,378.86 L228.27,378.38 L229.34,377.90 L230.41,377.43 L231.48,376.98 L232.55,376.53 L233.62,376.09 L234.69,375.66 L235.76,375.24 L236.83,374.83 L237.90,374.43 L238.97,374.04 L240.03,373.65 L241.10,373.27 L242.17,372.90 L243.24,372.54 L244.31,372.18 L245.38,371.83 L246.45,371.49 L247.52,371.15 L248.59,370.82 L249.66,370.49 L250.73,370.17 L251.80,369.86 L252.87,369.55 L253.94,369.25 L255.01,368.95 L256.08,368.65 L257.15,368.36 L258.22,368.08 L259.29,367.80 L260.36,367.52 L261.43,367.24 L262.50,366.97 L263.57,366.70 L264.63,366.44 L265.70,366.18 L266.77,365.92 L267.84,365.67 L268.91,365.41 L269.98,365.17 L271.05,364.92 L272.12,364.68 L273.19,364.44 L274.26,364.20 L275.33,363.97 L276.40,363.74 L277.47,363.51 L278.54,363.29 L279.61,363.07 L280.68,362.85 L281.75,362.65 L282.82,362.44 L283.89,362.24 L284.96,362.04 L286.03,361.84 L287.10,361.64 L288.17,361.45 L289.23,361.26 L290.30,361.07 L291.37,360.89 L292.44,360.71 L293.51,360.52 L294.58,360.35 L295.65,360.17 L296.72,360.00 L297.79,359.82 L298.86,359.65 L299.93,359.49 L301.00,359.32 L302.07,359.16 L303.14,358.99 L304.21,358.83 L305.28,358.68 L306.35,358.52 L307.42,358.36 L308.49,358.21 L309.56,358.06 L310.63,357.91 L311.70,357.76 L312.77,357.62 L313.83,357.47 L314.90,357.33 L315.97,357.18 L317.04,357.04 L318.11,356.90 L319.18,356.77 L320.25,356.62 L321.32,356.47 L322.39,356.31 L323.46,356.15 L324.53,355.99 L325.60,355.84 L326.67,355.68 L327.74,355.53 L328.81,355.38 L329.88,355.23 L330.95,355.08 L332.02,354.93 L333.09,354.78 L334.16,354.63 L335.23,354.49 L336.30,354.34 L337.37,354.19 L338.43,354.05 L339.50,353.90 L340.57,353.84 L341.64,353.85 L342.71,353.85 L343.78,353.86 L344.85,353.87 L345.92,353.88 L346.99,353.88 L348.06,353.89 L349.13,353.90 L350.20,353.91 L351.27,353.92 L352.34,353.93 L353.41,353.94 L354.48,353.94 L355.55,353.95 L356.62,353.96 L357.69,353.97 L358.76,353.98 L359.83,353.99 L360.90,354.00 L361.97,354.02 L363.03,354.04 L364.10,354.05 L365.17,354.07 L366.24,354.08 L367.31,354.10 L368.38,354.12 L369.45,354.13 L370.52,354.15 L371.59,354.16 L372.66,354.18 L373.73,354.19 L374.80,354.21 L374.80,352.90 L378.40,350.70 L383.30,348.20 L389.40,345.80 L395.60,343.90 L401.70,341.50 L407.80,339.10 L413.90,337.20 L420.00,333.80 L424.90,337.00 L430.50,334.50 L435.00,332.30 L439.50,330.80 L444.10,328.90 L447.80,327.10 L451.60,324.40 L456.10,322.60 L460.60,322.30 L464.40,318.80 L468.10,316.80 L472.60,316.50 L477.10,312.80 L481.70,307.80 L486.20,309.80" fill="none" stroke="#d4cf46" stroke-width="1.5" stroke-linejoin="round"/>
<g fill="#d4cf46"><circle cx="56.50" cy="469.91" r="1.1"/><circle cx="60.90" cy="469.91" r="1.1"/><circle cx="65.30" cy="469.91" r="1.1"/><circle cx="69.70" cy="469.91" r="1.1"/><circle cx="74.10" cy="469.73" r="1.1"/><circle cx="78.50" cy="469.06" r="1.1"/><circle cx="82.90" cy="468.17" r="1.1"/><circle cx="87.30" cy="467.07" r="1.1"/><circle cx="91.70" cy="465.77" r="1.1"/><circle cx="96.10" cy="464.27" r="1.1"/><circle cx="100.50" cy="462.59" r="1.1"/><circle cx="104.90" cy="460.72" r="1.1"/><circle cx="109.30" cy="458.69" r="1.1"/><circle cx="113.70" cy="456.49" r="1.1"/><circle cx="118.10" cy="454.14" r="1.1"/><circle cx="122.50" cy="451.64" r="1.1"/><circle cx="126.90" cy="449.00" r="1.1"/><circle cx="131.30" cy="446.23" r="1.1"/><circle cx="135.70" cy="443.33" r="1.1"/><circle cx="140.10" cy="440.32" r="1.1"/><circle cx="144.50" cy="437.20" r="1.1"/><circle cx="148.90" cy="433.98" r="1.1"/><circle cx="153.30" cy="430.68" r="1.1"/><circle cx="157.70" cy="427.30" r="1.1"/><circle cx="162.10" cy="423.88" r="1.1"/><circle cx="166.50" cy="420.41" r="1.1"/><circle cx="170.90" cy="416.94" r="1.1"/><circle cx="175.30" cy="413.46" r="1.1"/><circle cx="179.70" cy="410.01" r="1.1"/><circle cx="184.10" cy="406.59" r="1.1"/><circle cx="188.50" cy="403.23" r="1.1"/><circle cx="192.90" cy="399.95" r="1.1"/><circle cx="197.30" cy="396.75" r="1.1"/><circle cx="201.70" cy="393.67" r="1.1"/><circle cx="206.10" cy="390.71" r="1.1"/><circle cx="210.50" cy="387.90" r="1.1"/><circle cx="214.90" cy="385.26" r="1.1"/><circle cx="219.30" cy="382.80" r="1.1"/><circle cx="223.70" cy="380.53" r="1.1"/><circle cx="228.10" cy="378.45" r="1.1"/><circle cx="232.50" cy="376.55" r="1.1"/><circle cx="236.90" cy="374.81" r="1.1"/><circle cx="241.30" cy="373.20" r="1.1"/><circle cx="245.70" cy="371.73" r="1.1"/><circle cx="250.10" cy="370.36" r="1.1"/><circle cx="254.50" cy="369.09" r="1.1"/><circle cx="258.90" cy="367.90" r="1.1"/><circle cx="263.30" cy="366.77" r="1.1"/><circle cx="267.70" cy="365.70" r="1.1"/><circle cx="272.10" cy="364.68" r="1.1"/><circle cx="276.50" cy="363.72" r="1.1"/><circle cx="280.90" cy="362.81" r="1.1"/><circle cx="285.30" cy="361.97" r="1.1"/><circle cx="289.70" cy="361.18" r="1.1"/><circle cx="294.10" cy="360.43" r="1.1"/><circle cx="298.50" cy="359.71" r="1.1"/><circle cx="302.90" cy="359.03" r="1.1"/><circle cx="307.30" cy="358.38" r="1.1"/><circle cx="311.70" cy="357.76" r="1.1"/><circle cx="316.10" cy="357.17" r="1.1"/><circle cx="320.50" cy="356.59" r="1.1"/><circle cx="324.90" cy="355.94" r="1.1"/><circle cx="329.30" cy="355.31" r="1.1"/><circle cx="333.70" cy="354.70" r="1.1"/><circle cx="338.10" cy="354.09" r="1.1"/><circle cx="342.50" cy="353.85" r="1.1"/><circle cx="346.90" cy="353.88" r="1.1"/><circle cx="351.30" cy="353.92" r="1.1"/><circle cx="355.70" cy="353.95" r="1.1"/><circle cx="360.10" cy="353.99" r="1.1"/><circle cx="364.50" cy="354.06" r="1.1"/><circle cx="368.90" cy="354.12" r="1.1"/><circle cx="373.30" cy="354.19" r="1.1"/><circle cx="374.80" cy="352.90" r="1.1"/><circle cx="378.40" cy="350.70" r="1.1"/><circle cx="383.30" cy="348.20" r="1.1"/><circle cx="389.40" cy="345.80" r="1.1"/><circle cx="395.60" cy="343.90" r="1.1"/><circle cx="401.70" cy="341.50" r="1.1"/><circle cx="407.80" cy="339.10" r="1.1"/><circle cx="413.90" cy="337.20" r="1.1"/><circle cx="420.00" cy="333.80" r="1.1"/><circle cx="424.90" cy="337.00" r="1.1"/><circle cx="430.50" cy="334.50" r="1.1"/><circle cx="435.00" cy="332.30" r="1.1"/><circle cx="439.50" cy="330.80" r="1.1"/><circle cx="444.10" cy="328.90" r="1.1"/><circle cx="447.80" cy="327.10" r="1.1"/><circle cx="451.60" cy="324.40" r="1.1"/><circle cx="456.10" cy="322.60" r="1.1"/><circle cx="460.60" cy="322.30" r="1.1"/><circle cx="464.40" cy="318.80" r="1.1"/><circle cx="468.10" cy="316.80" r="1.1"/><circle cx="472.60" cy="316.50" r="1.1"/><circle cx="477.10" cy="312.80" r="1.1"/><circle cx="481.70" cy="307.80" r="1.1"/><circle cx="486.20" cy="309.80" r="1.1"/></g>
<path d="M55.0,14.5 H513.0 V217.3 H55.0 Z" fill="none" stroke="#2a2a2a" stroke-width="1.3"/>
<path d="M55.0,149.70000000000002 h5.5 M513.0,149.70000000000002 h-5.5" stroke="#2a2a2a" stroke-width="1.2"/>
<path d="M55.0,82.10000000000002 h5.5 M513.0,82.10000000000002 h-5.5" stroke="#2a2a2a" stroke-width="1.2"/>
<path d="M82.57,217.3 v-3 M82.57,14.5 v3" stroke="#2a2a2a" stroke-width="1.2"/>
<path d="M98.70,217.3 v-3 M98.70,14.5 v3" stroke="#2a2a2a" stroke-width="1.2"/>
<path d="M110.15,217.3 v-3 M110.15,14.5 v3" stroke="#2a2a2a" stroke-width="1.2"/>
<path d="M119.03,217.3 v-3 M119.03,14.5 v3" stroke="#2a2a2a" stroke-width="1.2"/>
<path d="M126.28,217.3 v-3 M126.28,14.5 v3" stroke="#2a2a2a" stroke-width="1.2"/>
<path d="M132.41,217.3 v-3 M132.41,14.5 v3" stroke="#2a2a2a" stroke-width="1.2"/>
<path d="M137.72,217.3 v-3 M137.72,14.5 v3" stroke="#2a2a2a" stroke-width="1.2"/>
<path d="M142.41,217.3 v-3 M142.41,14.5 v3" stroke="#2a2a2a" stroke-width="1.2"/>
<path d="M146.60,217.3 v-5.5 M146.60,14.5 v5.5" stroke="#2a2a2a" stroke-width="1.2"/>
<path d="M174.17,217.3 v-3 M174.17,14.5 v3" stroke="#2a2a2a" stroke-width="1.2"/>
<path d="M190.30,217.3 v-3 M190.30,14.5 v3" stroke="#2a2a2a" stroke-width="1.2"/>
<path d="M201.75,217.3 v-3 M201.75,14.5 v3" stroke="#2a2a2a" stroke-width="1.2"/>
<path d="M210.63,217.3 v-3 M210.63,14.5 v3" stroke="#2a2a2a" stroke-width="1.2"/>
<path d="M217.88,217.3 v-3 M217.88,14.5 v3" stroke="#2a2a2a" stroke-width="1.2"/>
<path d="M224.01,217.3 v-3 M224.01,14.5 v3" stroke="#2a2a2a" stroke-width="1.2"/>
<path d="M229.32,217.3 v-3 M229.32,14.5 v3" stroke="#2a2a2a" stroke-width="1.2"/>
<path d="M234.01,217.3 v-3 M234.01,14.5 v3" stroke="#2a2a2a" stroke-width="1.2"/>
<path d="M238.20,217.3 v-5.5 M238.20,14.5 v5.5" stroke="#2a2a2a" stroke-width="1.2"/>
<path d="M265.77,217.3 v-3 M265.77,14.5 v3" stroke="#2a2a2a" stroke-width="1.2"/>
<path d="M281.90,217.3 v-3 M281.90,14.5 v3" stroke="#2a2a2a" stroke-width="1.2"/>
<path d="M293.35,217.3 v-3 M293.35,14.5 v3" stroke="#2a2a2a" stroke-width="1.2"/>
<path d="M302.23,217.3 v-3 M302.23,14.5 v3" stroke="#2a2a2a" stroke-width="1.2"/>
<path d="M309.48,217.3 v-3 M309.48,14.5 v3" stroke="#2a2a2a" stroke-width="1.2"/>
<path d="M315.61,217.3 v-3 M315.61,14.5 v3" stroke="#2a2a2a" stroke-width="1.2"/>
<path d="M320.92,217.3 v-3 M320.92,14.5 v3" stroke="#2a2a2a" stroke-width="1.2"/>
<path d="M325.61,217.3 v-3 M325.61,14.5 v3" stroke="#2a2a2a" stroke-width="1.2"/>
<path d="M329.80,217.3 v-5.5 M329.80,14.5 v5.5" stroke="#2a2a2a" stroke-width="1.2"/>
<path d="M357.37,217.3 v-3 M357.37,14.5 v3" stroke="#2a2a2a" stroke-width="1.2"/>
<path d="M373.50,217.3 v-3 M373.50,14.5 v3" stroke="#2a2a2a" stroke-width="1.2"/>
<path d="M384.95,217.3 v-3 M384.95,14.5 v3" stroke="#2a2a2a" stroke-width="1.2"/>
<path d="M393.83,217.3 v-3 M393.83,14.5 v3" stroke="#2a2a2a" stroke-width="1.2"/>
<path d="M401.08,217.3 v-3 M401.08,14.5 v3" stroke="#2a2a2a" stroke-width="1.2"/>
<path d="M407.21,217.3 v-3 M407.21,14.5 v3" stroke="#2a2a2a" stroke-width="1.2"/>
<path d="M412.52,217.3 v-3 M412.52,14.5 v3" stroke="#2a2a2a" stroke-width="1.2"/>
<path d="M417.21,217.3 v-3 M417.21,14.5 v3" stroke="#2a2a2a" stroke-width="1.2"/>
<path d="M421.40,217.3 v-5.5 M421.40,14.5 v5.5" stroke="#2a2a2a" stroke-width="1.2"/>
<path d="M448.97,217.3 v-3 M448.97,14.5 v3" stroke="#2a2a2a" stroke-width="1.2"/>
<path d="M465.10,217.3 v-3 M465.10,14.5 v3" stroke="#2a2a2a" stroke-width="1.2"/>
<path d="M476.55,217.3 v-3 M476.55,14.5 v3" stroke="#2a2a2a" stroke-width="1.2"/>
<path d="M485.43,217.3 v-3 M485.43,14.5 v3" stroke="#2a2a2a" stroke-width="1.2"/>
<path d="M492.68,217.3 v-3 M492.68,14.5 v3" stroke="#2a2a2a" stroke-width="1.2"/>
<path d="M498.81,217.3 v-3 M498.81,14.5 v3" stroke="#2a2a2a" stroke-width="1.2"/>
<path d="M504.12,217.3 v-3 M504.12,14.5 v3" stroke="#2a2a2a" stroke-width="1.2"/>
<path d="M508.81,217.3 v-3 M508.81,14.5 v3" stroke="#2a2a2a" stroke-width="1.2"/>
<path d="M55.0,295.5 H513.0 V498.3 H55.0 Z" fill="none" stroke="#2a2a2a" stroke-width="1.3"/>
<path d="M55.0,457.74 h5.5 M513.0,457.74 h-5.5" stroke="#2a2a2a" stroke-width="1.2"/>
<path d="M55.0,417.18 h5.5 M513.0,417.18 h-5.5" stroke="#2a2a2a" stroke-width="1.2"/>
<path d="M55.0,376.62 h5.5 M513.0,376.62 h-5.5" stroke="#2a2a2a" stroke-width="1.2"/>
<path d="M55.0,336.06 h5.5 M513.0,336.06 h-5.5" stroke="#2a2a2a" stroke-width="1.2"/>
<path d="M82.57,498.3 v-3 M82.57,295.5 v3" stroke="#2a2a2a" stroke-width="1.2"/>
<path d="M98.70,498.3 v-3 M98.70,295.5 v3" stroke="#2a2a2a" stroke-width="1.2"/>
<path d="M110.15,498.3 v-3 M110.15,295.5 v3" stroke="#2a2a2a" stroke-width="1.2"/>
<path d="M119.03,498.3 v-3 M119.03,295.5 v3" stroke="#2a2a2a" stroke-width="1.2"/>
<path d="M126.28,498.3 v-3 M126.28,295.5 v3" stroke="#2a2a2a" stroke-width="1.2"/>
<path d="M132.41,498.3 v-3 M132.41,295.5 v3" stroke="#2a2a2a" stroke-width="1.2"/>
<path d="M137.72,498.3 v-3 M137.72,295.5 v3" stroke="#2a2a2a" stroke-width="1.2"/>
<path d="M142.41,498.3 v-3 M142.41,295.5 v3" stroke="#2a2a2a" stroke-width="1.2"/>
<path d="M146.60,498.3 v-5.5 M146.60,295.5 v5.5" stroke="#2a2a2a" stroke-width="1.2"/>
<path d="M174.17,498.3 v-3 M174.17,295.5 v3" stroke="#2a2a2a" stroke-width="1.2"/>
<path d="M190.30,498.3 v-3 M190.30,295.5 v3" stroke="#2a2a2a" stroke-width="1.2"/>
<path d="M201.75,498.3 v-3 M201.75,295.5 v3" stroke="#2a2a2a" stroke-width="1.2"/>
<path d="M210.63,498.3 v-3 M210.63,295.5 v3" stroke="#2a2a2a" stroke-width="1.2"/>
<path d="M217.88,498.3 v-3 M217.88,295.5 v3" stroke="#2a2a2a" stroke-width="1.2"/>
<path d="M224.01,498.3 v-3 M224.01,295.5 v3" stroke="#2a2a2a" stroke-width="1.2"/>
<path d="M229.32,498.3 v-3 M229.32,295.5 v3" stroke="#2a2a2a" stroke-width="1.2"/>
<path d="M234.01,498.3 v-3 M234.01,295.5 v3" stroke="#2a2a2a" stroke-width="1.2"/>
<path d="M238.20,498.3 v-5.5 M238.20,295.5 v5.5" stroke="#2a2a2a" stroke-width="1.2"/>
<path d="M265.77,498.3 v-3 M265.77,295.5 v3" stroke="#2a2a2a" stroke-width="1.2"/>
<path d="M281.90,498.3 v-3 M281.90,295.5 v3" stroke="#2a2a2a" stroke-width="1.2"/>
<path d="M293.35,498.3 v-3 M293.35,295.5 v3" stroke="#2a2a2a" stroke-width="1.2"/>
<path d="M302.23,498.3 v-3 M302.23,295.5 v3" stroke="#2a2a2a" stroke-width="1.2"/>
<path d="M309.48,498.3 v-3 M309.48,295.5 v3" stroke="#2a2a2a" stroke-width="1.2"/>
<path d="M315.61,498.3 v-3 M315.61,295.5 v3" stroke="#2a2a2a" stroke-width="1.2"/>
<path d="M320.92,498.3 v-3 M320.92,295.5 v3" stroke="#2a2a2a" stroke-width="1.2"/>
<path d="M325.61,498.3 v-3 M325.61,295.5 v3" stroke="#2a2a2a" stroke-width="1.2"/>
<path d="M329.80,498.3 v-5.5 M329.80,295.5 v5.5" stroke="#2a2a2a" stroke-width="1.2"/>
<path d="M357.37,498.3 v-3 M357.37,295.5 v3" stroke="#2a2a2a" stroke-width="1.2"/>
<path d="M373.50,498.3 v-3 M373.50,295.5 v3" stroke="#2a2a2a" stroke-width="1.2"/>
<path d="M384.95,498.3 v-3 M384.95,295.5 v3" stroke="#2a2a2a" stroke-width="1.2"/>
<path d="M393.83,498.3 v-3 M393.83,295.5 v3" stroke="#2a2a2a" stroke-width="1.2"/>
<path d="M401.08,498.3 v-3 M401.08,295.5 v3" stroke="#2a2a2a" stroke-width="1.2"/>
<path d="M407.21,498.3 v-3 M407.21,295.5 v3" stroke="#2a2a2a" stroke-width="1.2"/>
<path d="M412.52,498.3 v-3 M412.52,295.5 v3" stroke="#2a2a2a" stroke-width="1.2"/>
<path d="M417.21,498.3 v-3 M417.21,295.5 v3" stroke="#2a2a2a" stroke-width="1.2"/>
<path d="M421.40,498.3 v-5.5 M421.40,295.5 v5.5" stroke="#2a2a2a" stroke-width="1.2"/>
<path d="M448.97,498.3 v-3 M448.97,295.5 v3" stroke="#2a2a2a" stroke-width="1.2"/>
<path d="M465.10,498.3 v-3 M465.10,295.5 v3" stroke="#2a2a2a" stroke-width="1.2"/>
<path d="M476.55,498.3 v-3 M476.55,295.5 v3" stroke="#2a2a2a" stroke-width="1.2"/>
<path d="M485.43,498.3 v-3 M485.43,295.5 v3" stroke="#2a2a2a" stroke-width="1.2"/>
<path d="M492.68,498.3 v-3 M492.68,295.5 v3" stroke="#2a2a2a" stroke-width="1.2"/>
<path d="M498.81,498.3 v-3 M498.81,295.5 v3" stroke="#2a2a2a" stroke-width="1.2"/>
<path d="M504.12,498.3 v-3 M504.12,295.5 v3" stroke="#2a2a2a" stroke-width="1.2"/>
<path d="M508.81,498.3 v-3 M508.81,295.5 v3" stroke="#2a2a2a" stroke-width="1.2"/>
<g stroke="#2e2e2e" stroke-width="0.08">
<text x="46.4" y="221.75" text-anchor="end" font-size="15.2">20</text>
<text x="46.4" y="154.40" text-anchor="end" font-size="15.2">25</text>
<text x="46.4" y="86.75" text-anchor="end" font-size="15.2">30</text>
<text x="46.4" y="19.15" text-anchor="end" font-size="15.2">35</text>
<text x="46.4" y="502.05" text-anchor="end" font-size="15.2">-80</text>
<text x="46.4" y="462.25" text-anchor="end" font-size="15.2">-60</text>
<text x="46.4" y="422.05" text-anchor="end" font-size="15.2">-40</text>
<text x="46.4" y="380.85" text-anchor="end" font-size="15.2">-20</text>
<text x="46.4" y="340.85" text-anchor="end" font-size="15.2">0</text>
<text x="46.4" y="300.45" text-anchor="end" font-size="15.2">20</text>
<text x="57.70" y="239.1" text-anchor="end" font-size="15.2">10</text>
<text x="60.00" y="232.70" font-size="12.0">0</text>
<text x="149.30" y="239.1" text-anchor="end" font-size="15.2">10</text>
<text x="151.60" y="232.70" font-size="12.0">1</text>
<text x="241.75" y="239.1" text-anchor="end" font-size="15.2">10</text>
<text x="244.05" y="232.70" font-size="12.0">2</text>
<text x="333.10" y="239.1" text-anchor="end" font-size="15.2">10</text>
<text x="335.40" y="232.70" font-size="12.0">3</text>
<text x="425.40" y="239.1" text-anchor="end" font-size="15.2">10</text>
<text x="427.70" y="232.70" font-size="12.0">4</text>
<text x="516.85" y="239.1" text-anchor="end" font-size="15.2">10</text>
<text x="519.15" y="232.70" font-size="12.0">5</text>
<text x="57.70" y="519.8" text-anchor="end" font-size="15.2">10</text>
<text x="60.00" y="513.40" font-size="12.0">0</text>
<text x="149.30" y="519.8" text-anchor="end" font-size="15.2">10</text>
<text x="151.60" y="513.40" font-size="12.0">1</text>
<text x="241.75" y="519.8" text-anchor="end" font-size="15.2">10</text>
<text x="244.05" y="513.40" font-size="12.0">2</text>
<text x="333.10" y="519.8" text-anchor="end" font-size="15.2">10</text>
<text x="335.40" y="513.40" font-size="12.0">3</text>
<text x="425.40" y="519.8" text-anchor="end" font-size="15.2">10</text>
<text x="427.70" y="513.40" font-size="12.0">4</text>
<text x="516.85" y="519.8" text-anchor="end" font-size="15.2">10</text>
<text x="519.15" y="513.40" font-size="12.0">5</text>
<text transform="translate(23.3,149.75) rotate(-90)" text-anchor="middle" font-size="15.2">|</text>
<text transform="translate(23.3,142) rotate(-90)" text-anchor="middle" font-size="15.2">Z</text>
<text transform="translate(23.3,135.6) rotate(-90)" text-anchor="middle" font-size="15.2">|</text>
<text transform="translate(23.3,127.5) rotate(-90)" text-anchor="middle" font-size="15.2">[</text>
<text transform="translate(23.3,120.25) rotate(-90)" text-anchor="middle" font-size="15.2">d</text>
<text transform="translate(23.3,111) rotate(-90)" text-anchor="middle" font-size="15.2">B</text>
<text transform="translate(23.3,92.85) rotate(-90)" text-anchor="middle" font-size="15.2">&#937;</text>
<text transform="translate(23.3,85.2) rotate(-90)" text-anchor="middle" font-size="15.2">]</text>
<text transform="translate(16.9,401.8) rotate(-90)" text-anchor="middle" font-size="15.2">/Z/ [°]</text>
<text x="276.5" y="540.4" text-anchor="middle" font-size="15.2">frequency [Hz]</text>
</g>
</svg>
</body></html>
